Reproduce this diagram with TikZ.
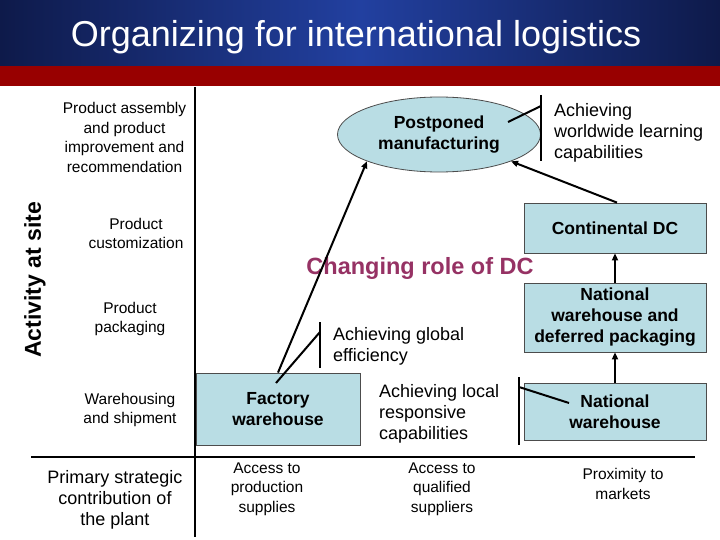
\documentclass[tikz,border=0pt]{standalone}
\usepackage{fontspec}
\setmainfont{Liberation Sans}
\usetikzlibrary{arrows.meta,shapes.geometric}
\definecolor{boxblue}{RGB}{185,221,228}
\definecolor{bannerdark}{RGB}{14,26,74}
\definecolor{bannermid}{RGB}{34,64,160}
\definecolor{bannerred}{RGB}{152,0,0}
\definecolor{dcrole}{RGB}{150,50,100}
\tikzset{
  lbl/.style={font=\fontsize{15.5}{19.5}\selectfont, align=center, inner sep=0pt},
  big/.style={font=\fontsize{18}{21}\selectfont, align=center, inner sep=0pt},
  bigleft/.style={font=\fontsize{18}{21}\selectfont, align=left, inner sep=0pt, anchor=west},
  boxnode/.style={draw=black!70, line width=0.8pt, fill=boxblue, align=center, inner sep=0pt,
     font=\bfseries\fontsize{17.5}{21}\selectfont},
  arr/.style={line width=2pt, -{Triangle[length=7pt,width=6pt]}},
  barline/.style={line width=2pt},
  divider/.style={line width=1.2pt},
}
\begin{document}
\begin{tikzpicture}[x=1pt,y=-1pt]
\useasboundingbox (0,0) rectangle (720,540);
\fill[white] (0,0) rectangle (720,540);
% banner
\shade[left color=bannerdark, right color=bannerdark, middle color=bannermid] (0,0) rectangle (720,66);
\fill[bannerred] (0,66) rectangle (720,86);
\node[anchor=base, text=white, inner sep=0pt, font=\fontsize{36}{40}\selectfont] (title) at (356,47) {Organizing for international logistics};
% dividers
\coordinate (vtop) at (195,87);
\coordinate (vbot) at (195,537);
\draw[divider] (vtop) -- (vbot);
\coordinate (hl) at (31,457);
\coordinate (hr) at (695,457);
\draw[divider] (hl) -- (hr);
% left labels
\node[lbl] (l1) at (124.5,137.5) {Product assembly\\and product\\improvement and\\recommendation};
\node[lbl] (l2) at (136,233.5) {Product\\customization};
\node[lbl] (l3) at (130,319) {Product\\packaging};
\node[lbl] (l4) at (130,410) {Warehousing\\and shipment};
\node[big] (l5) at (115,500) {Primary strategic\\contribution of\\the plant};
\node[rotate=90, inner sep=0pt, font=\bfseries\fontsize{23}{25}\selectfont] (act) at (35,280) {Activity at site};
% bottom labels
\node[lbl] (b1) at (267,489) {Access to\\production\\supplies};
\node[lbl] (b2) at (442,489) {Access to\\qualified\\suppliers};
\node[lbl] (b3) at (623,484) {Proximity to\\markets};
% boxes
\node[boxnode, minimum width=164pt, minimum height=72pt] (fw) at (278,409) {Factory\\warehouse};
\node[boxnode, minimum width=182pt, minimum height=50pt] (cdc) at (615,228) {Continental DC};
\node[boxnode, minimum width=182pt, minimum height=69pt] (nwdp) at (615,317.5) {National\\warehouse and\\deferred packaging};
\node[boxnode, minimum width=182pt, minimum height=57pt] (nw) at (615,411.5) {National\\warehouse};
\node[boxnode, ellipse, minimum width=203pt, minimum height=75pt] (pm) at (439,134.5) {Postponed\\manufacturing};
% side labels
\node[bigleft] (glob) at (333,346.5) {Achieving global\\efficiency};
\node[bigleft] (loc) at (379,414) {Achieving local\\responsive\\capabilities};
\node[bigleft] (ww) at (554,133) {Achieving\\worldwide learning\\capabilities};
\node[text=dcrole, inner sep=0pt, font=\bfseries\fontsize{23.5}{26}\selectfont] (role) at (420,268) {Changing role of DC};
% bars
\coordinate (gbt) at (320,322);
\coordinate (gbb) at (320,368);
\coordinate (gb) at (320,332);
\coordinate (gin) at (276,383);
\draw[barline] (gbt) -- (gbb);
\draw[barline] (gin) -- (gb);
\coordinate (wbt) at (541,95);
\coordinate (wbb) at (541,161);
\coordinate (wb) at (541,106);
\coordinate (win) at (508,122);
\draw[barline] (wbt) -- (wbb);
\draw[barline] (win) -- (wb);
\coordinate (lbt) at (519,377);
\coordinate (lbb) at (519,445);
\coordinate (lb) at (519,387);
\coordinate (lin) at (569,403);
\draw[barline] (lbt) -- (lbb);
\draw[barline] (lin) -- (lb);
% arrows
\draw[arr] (fw.north) -- (pm.south west);
\draw[arr] ([xshift=2pt]cdc.north) -- (pm.south east);
\draw[arr] (nwdp.north) -- (cdc.south);
\draw[arr] (nw.north) -- (nwdp.south);
\end{tikzpicture}
\end{document}
